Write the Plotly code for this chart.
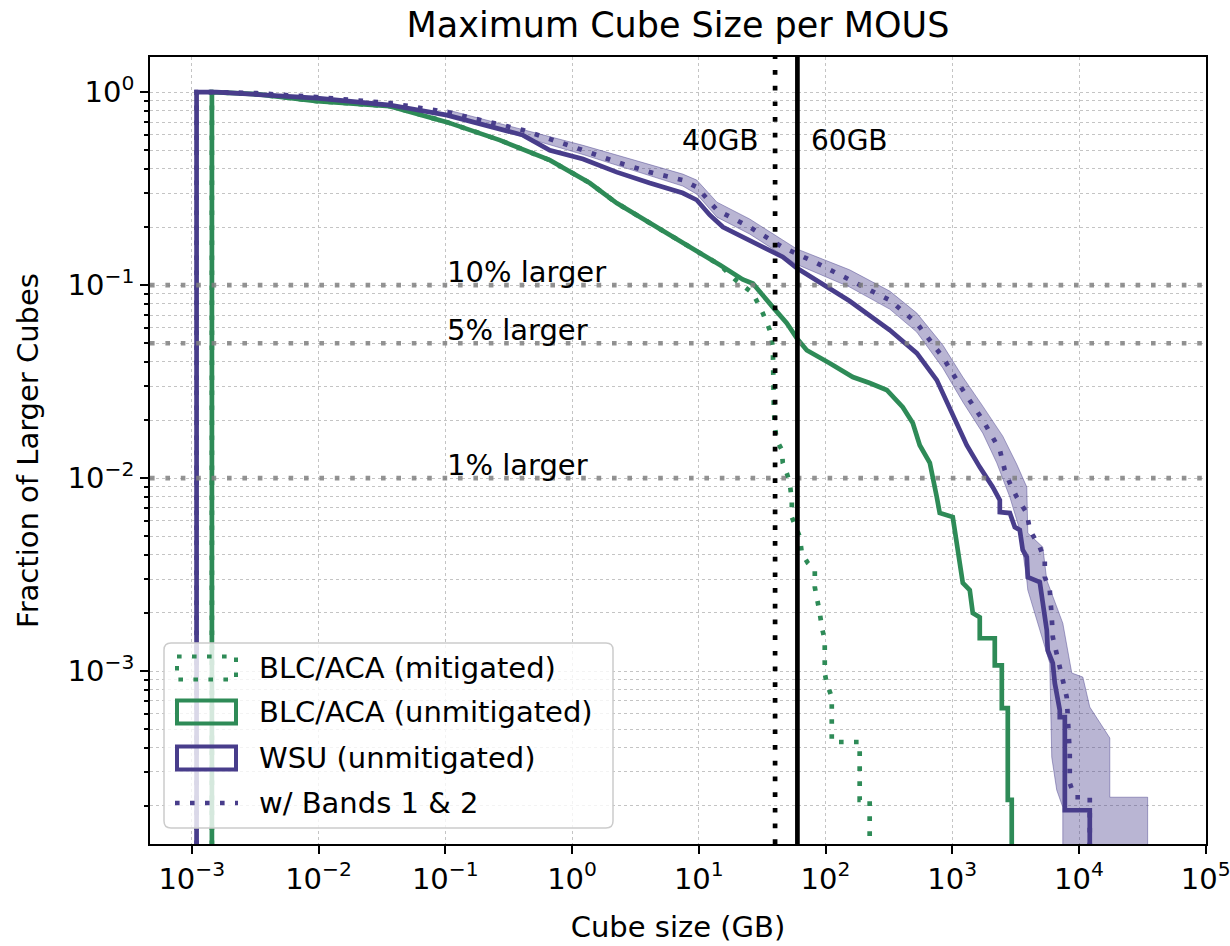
import numpy as np
import plotly.graph_objects as go

# Survival curves: fraction of MOUSes whose largest cube exceeds a given size.
# A fraction of 0 cannot sit on a log axis, so it is drawn just below the frame.
ZERO_ON_LOG = 1e-6

# ---- BLC/ACA: stretch shared by the mitigated and unmitigated cases ----
blc_common_gb = [1.44e-3, 2.0e-3, 3.26e-3, 9.7e-3, 0.0365, 0.103, 0.269, 0.668,
                 1.38, 2.25, 4.10, 7.48, 14.7]
blc_common_frac = [1.0, 0.99, 0.976, 0.898, 0.846, 0.699, 0.564, 0.444,
                   0.338, 0.266, 0.210, 0.167, 0.127]

# BLC/ACA unmitigated
blc_unmit_gb = [22.2, 26.7, 38.4, 49.5, 59.3, 71.1, 108, 164, 223, 304, 407, 488,
                554, 665, 755, 796, 1009, 1086, 1211, 1374, 1452, 1648]
blc_unmit_frac = [0.107, 0.102, 0.0769, 0.0635, 0.0531, 0.046, 0.0394, 0.0334,
                  0.0311, 0.0286, 0.0233, 0.0193, 0.0148, 0.0120, 0.00797, 0.00659,
                  0.00628, 0.0045, 0.00286, 0.00263, 0.0020, 0.0019]
blc_unmit_step_gb = [1648, 2165, 2460, 2742, 2946]
blc_unmit_step_frac = [1.48e-3, 1.07e-3, 6.43e-4, 2.15e-4, 0.0]

# BLC/ACA mitigated
blc_mit_gb = [19.95, 26.7, 32.0, 36.3, 38.4, 38.4, 39.1, 39.8, 41.3, 45.2, 46.0,
              49.5, 52.2, 54.2, 54.2, 62.7, 65.0, 72.5, 82.3, 82.3, 86.9, 90.1,
              93.4, 98.6, 98.6, 102, 112]
blc_mit_frac = [0.105, 0.0909, 0.0716, 0.0585, 0.0477, 0.0311, 0.0233, 0.0184,
                0.0157, 0.0140, 0.0120, 0.0106, 0.00942, 0.00769, 0.00628, 0.00495,
                0.00408, 0.00363, 0.00334, 0.00272, 0.00233, 0.0020, 0.00169,
                0.00145, 9.77e-4, 8.67e-4, 7.33e-4]
blc_mit_step_gb = [112, 186, 223]
blc_mit_step_frac = [4.29e-4, 2.15e-4, 0.0]

# ---- WSU unmitigated ----
wsu_gb = [1.09e-3, 1.57e-3, 3.26e-3, 9.7e-3, 0.0365, 0.103, 0.409, 0.668, 1.22,
          2.25, 4.10, 7.48, 9.64, 12.2, 15.5, 25.2, 46.0, 59.3, 85.3, 155, 321,
          525, 755, 956, 1301, 1648, 2089, 2372, 2372, 2846, 3115, 3410, 3597,
          3873, 3945, 4903, 5085, 5567, 5667, 6211, 6440, 7050, 7050]
wsu_frac = [1.0, 1.0, 0.976, 0.931, 0.857, 0.760, 0.599, 0.50, 0.450, 0.385,
            0.338, 0.300, 0.276, 0.231, 0.200, 0.171, 0.140, 0.1225, 0.106,
            0.0827, 0.0585, 0.0444, 0.0322, 0.0233, 0.0148, 0.0114, 0.00898,
            0.00769, 0.00667, 0.00659, 0.00557, 0.00538, 0.00424, 0.0039,
            0.00307, 0.00289, 0.00242, 0.00163, 0.00128, 0.0011, 8.67e-4,
            6.28e-4, 5.78e-4]
wsu_step_gb = [7730, 12160]
wsu_step_frac = [1.9e-4, 0.0]

# ---- WSU with Bands 1 & 2 ----
wsu_b12_gb = [1.09e-3, 1.57e-3, 3.26e-3, 9.7e-3, 0.0365, 0.103, 0.409, 1.22,
              2.25, 4.10, 7.48, 9.64, 13.9, 25.2, 46.0, 85.3, 155, 321, 525, 842,
              1211, 1741, 2372, 2594, 2846, 3226, 3873, 4095, 4903, 5370, 5370,
              5878, 6095, 6211, 7450, 8000, 8450, 8450, 9250]
wsu_b12_frac = [1.0, 1.0, 0.988, 0.942, 0.877, 0.788, 0.636, 0.50, 0.434, 0.385,
                0.350, 0.322, 0.245, 0.200, 0.157, 0.130, 0.107, 0.0836, 0.0635,
                0.0423, 0.0286, 0.0200, 0.0140, 0.0110, 0.00942, 0.00797,
                0.00659, 0.00538, 0.00439, 0.00376, 0.00307, 0.00263, 0.0019,
                0.0015, 8.98e-4, 7.33e-4, 3.76e-4, 2.63e-4, 2.22e-4]
wsu_b12_step_gb = [12160]
wsu_b12_step_frac = [0.0]

# uncertainty band around the Bands 1 & 2 curve
band_hi_gb = [0.103, 1.22, 7.48, 9.64, 13.9, 25.2, 59.3, 155, 321, 525, 842, 1211,
              1741, 2502, 3226, 3873, 3945, 5180, 5567, 7450, 8770, 10720, 12160,
              17500, 17500, 34800, 34800]
band_hi_frac = [0.81, 0.53, 0.376, 0.350, 0.269, 0.220, 0.154, 0.120, 0.0931,
                0.0716, 0.0489, 0.0334, 0.0236, 0.0165, 0.0118, 0.00898, 0.00519,
                0.00439, 0.00296, 0.00177, 9.77e-4, 9.31e-4, 6.51e-4, 4.5e-4,
                2.22e-4, 2.22e-4, 0.0]
band_lo_gb = [0.103, 1.22, 7.48, 9.64, 13.9, 25.2, 59.3, 155, 321, 525, 842, 1211,
              1741, 2243, 2846, 3410, 3873, 3945, 5878, 6095, 6670, 7450, 7450]
band_lo_frac = [0.765, 0.475, 0.326, 0.296, 0.225, 0.184, 0.128, 0.0977, 0.0751,
                0.0571, 0.0372, 0.0248, 0.0171, 0.0120, 0.00797, 0.00538, 0.00296,
                0.00263, 0.0011, 3.58e-4, 2.42e-4, 1.97e-4, 0.0]

# reference markers
size_limits_gb = [40, 60]
size_limit_labels = ["40GB", "60GB"]
fraction_levels = [0.1, 0.05, 0.01]
fraction_labels = ["10% larger", "5% larger", "1% larger"]

x_tick_exp = list(range(-3, 6))
y_tick_exp = [-3, -2, -1, 0]

PURPLE = "#483D8B"
GREEN = "#2E8B57"
BAND_FILL = "rgba(72,61,139,0.38)"
FONT = "DejaVu Sans"
LW = 4.7
DOTS = "4.6px,10.4px"


def ccdf_path(smooth_gb, smooth_frac, step_gb, step_frac):
    """Vertical rise from zero at the smallest size, the densely sampled part,
    then the sparse tail as horizontal-then-vertical steps."""
    xs = [smooth_gb[0]] + list(smooth_gb)
    ys = [0.0] + list(smooth_frac)
    for g, f in zip(step_gb, step_frac):
        xs += [g, g]
        ys += [ys[-1], f]
    ys = [max(v, ZERO_ON_LOG) for v in ys]
    return xs, ys


def pow10_label(e):
    return f"10<sup>{'−' if e < 0 else ''}{abs(e)}</sup>"


fig = go.Figure()

# band first so the curves sit on top of it
bx = list(band_hi_gb) + list(band_lo_gb[::-1])
by = [max(v, ZERO_ON_LOG) for v in list(band_hi_frac) + list(band_lo_frac[::-1])]
fig.add_trace(go.Scatter(x=bx, y=by, mode="lines", fill="toself",
                         fillcolor=BAND_FILL,
                         line=dict(color="rgba(72,61,139,0.45)", width=1),
                         hoverinfo="skip", showlegend=False))

x, y = ccdf_path(blc_common_gb + blc_mit_gb, blc_common_frac + blc_mit_frac,
                 blc_mit_step_gb, blc_mit_step_frac)
fig.add_trace(go.Scatter(x=x, y=y, mode="lines", name="BLC/ACA (mitigated)",
                         line=dict(color=GREEN, width=LW, dash=DOTS)))

x, y = ccdf_path(blc_common_gb + blc_unmit_gb, blc_common_frac + blc_unmit_frac,
                 blc_unmit_step_gb, blc_unmit_step_frac)
fig.add_trace(go.Scatter(x=x, y=y, mode="lines", name="BLC/ACA (unmitigated)",
                         line=dict(color=GREEN, width=LW)))

x, y = ccdf_path(wsu_gb, wsu_frac, wsu_step_gb, wsu_step_frac)
fig.add_trace(go.Scatter(x=x, y=y, mode="lines", name="WSU (unmitigated)",
                         line=dict(color=PURPLE, width=LW)))

x, y = ccdf_path(wsu_b12_gb, wsu_b12_frac, wsu_b12_step_gb, wsu_b12_step_frac)
fig.add_trace(go.Scatter(x=x, y=y, mode="lines", name="w/ Bands 1 & 2",
                         line=dict(color=PURPLE, width=LW, dash=DOTS)))

shapes = []
# horizontal fraction levels
for lvl in fraction_levels:
    shapes.append(dict(type="line", xref="paper", x0=0, x1=1, yref="y",
                       y0=lvl, y1=lvl, layer="above",
                       line=dict(color="rgba(128,128,128,0.85)", width=4.6,
                                 dash="4.6px,10.8px")))
# vertical size limits
shapes.append(dict(type="line", xref="x", x0=size_limits_gb[0], x1=size_limits_gb[0],
                   yref="paper", y0=0, y1=1, layer="above",
                   line=dict(color="black", width=LW, dash="4.7px,11px")))
shapes.append(dict(type="line", xref="x", x0=size_limits_gb[1], x1=size_limits_gb[1],
                   yref="paper", y0=0, y1=1, layer="above",
                   line=dict(color="black", width=LW)))

annotations = []
annotations.append(dict(x=np.log10(size_limits_gb[0]), y=np.log10(0.56), xref="x", yref="y",
                        text=size_limit_labels[0], showarrow=False, xanchor="right",
                        yanchor="middle", xshift=-14, font=dict(size=28)))
annotations.append(dict(x=np.log10(size_limits_gb[1]), y=np.log10(0.56), xref="x", yref="y",
                        text=size_limit_labels[1], showarrow=False, xanchor="left",
                        yanchor="middle", xshift=12, font=dict(size=28)))
for lvl, lab in zip(fraction_levels, fraction_labels):
    annotations.append(dict(x=np.log10(0.1), y=np.log10(lvl), xref="x", yref="y",
                            text=lab, showarrow=False, xanchor="left",
                            yanchor="bottom", yshift=-6, font=dict(size=29)))

# legend drawn as a framed box with outlined swatches
W, H, L, T = 1230, 946, 150, 57
PW, PH = 1206 - L, 844 - T


def px(xp):
    return (xp - L) / PW


def py(yp):
    return (T + PH - yp) / PH


bx0, by0, bx1, by1, r = 164, 643, 613, 828, 7
rx, ry = r / PW, r / PH
path = (f"M {px(bx0)+rx},{py(by0)} L {px(bx1)-rx},{py(by0)} "
        f"Q {px(bx1)},{py(by0)} {px(bx1)},{py(by0)-ry} "
        f"L {px(bx1)},{py(by1)+ry} Q {px(bx1)},{py(by1)} {px(bx1)-rx},{py(by1)} "
        f"L {px(bx0)+rx},{py(by1)} Q {px(bx0)},{py(by1)} {px(bx0)},{py(by1)+ry} "
        f"L {px(bx0)},{py(by0)-ry} Q {px(bx0)},{py(by0)} {px(bx0)+rx},{py(by0)} Z")
shapes.append(dict(type="path", xref="paper", yref="paper", path=path, layer="above",
                   fillcolor="rgba(255,255,255,0.8)",
                   line=dict(color="rgba(204,204,204,1)", width=1.5)))

legend_rows = [
    ("BLC/ACA (mitigated)", GREEN, "rect", DOTS, 668),
    ("BLC/ACA (unmitigated)", GREEN, "rect", "solid", 712),
    ("WSU (unmitigated)", PURPLE, "rect", "solid", 758),
    ("w/ Bands 1 & 2", PURPLE, "line", DOTS, 803),
]
for label, col, kind, dash, yc in legend_rows:
    if kind == "rect":
        shapes.append(dict(type="rect", xref="paper", yref="paper",
                           x0=px(177), x1=px(236), y0=py(yc - 11.5), y1=py(yc + 11.5),
                           layer="above", fillcolor="rgba(0,0,0,0)",
                           line=dict(color=col, width=4, dash=dash)))
    else:
        shapes.append(dict(type="line", xref="paper", yref="paper",
                           x0=px(175), x1=px(238), y0=py(yc), y1=py(yc),
                           layer="above", line=dict(color=col, width=LW, dash=dash)))
    annotations.append(dict(x=px(257), y=py(yc), xref="paper", yref="paper",
                            text=label, showarrow=False, xanchor="left",
                            yanchor="middle", font=dict(size=29)))

axis_common = dict(type="log", showline=True, linecolor="black", linewidth=1.6,
                   mirror=True, ticks="outside", tickcolor="black", tickwidth=1.5,
                   showgrid=True, gridcolor="#c4c4c4", gridwidth=1, griddash="dot",
                   zeroline=False, automargin=False, ticklabeloverflow="allow",
                   tickfont=dict(size=29, color="black"))

y_minor = [m * 10.0 ** k for k in range(-4, 1) for m in range(2, 10)]

fig.update_layout(
    width=W, height=H,
    margin=dict(l=L, r=W - 1206, t=T, b=H - 844),
    paper_bgcolor="white", plot_bgcolor="white",
    font=dict(family=FONT, size=29, color="black"),
    showlegend=False,
    title=dict(text="Maximum Cube Size per MOUS", x=678 / W, xanchor="center",
               y=1 - 25 / H, yanchor="middle", font=dict(size=35)),
    xaxis=dict(axis_common, range=[-3.33, 5.002],
               tickmode="array", tickvals=[10.0 ** e for e in x_tick_exp],
               ticktext=[pow10_label(e) for e in x_tick_exp],
               ticklen=8,
               minor=dict(showgrid=False, ticks="", tickmode="array", tickvals=[]),
               title=dict(text="Cube size (GB)", standoff=22, font=dict(size=29))),
    yaxis=dict(axis_common, range=[-3.896, 0.182],
               tickmode="array", tickvals=[10.0 ** e for e in y_tick_exp],
               ticktext=[pow10_label(e) for e in y_tick_exp],
               ticklen=8,
               minor=dict(tickmode="array", tickvals=y_minor, ticks="outside",
                          ticklen=4, tickcolor="black", showgrid=True,
                          gridcolor="#c4c4c4", griddash="dot", gridwidth=1),
               title=dict(text="Fraction of Larger Cubes", standoff=20,
                          font=dict(size=29))),
    shapes=shapes,
    annotations=annotations,
)

fig.write_html("out.html")
